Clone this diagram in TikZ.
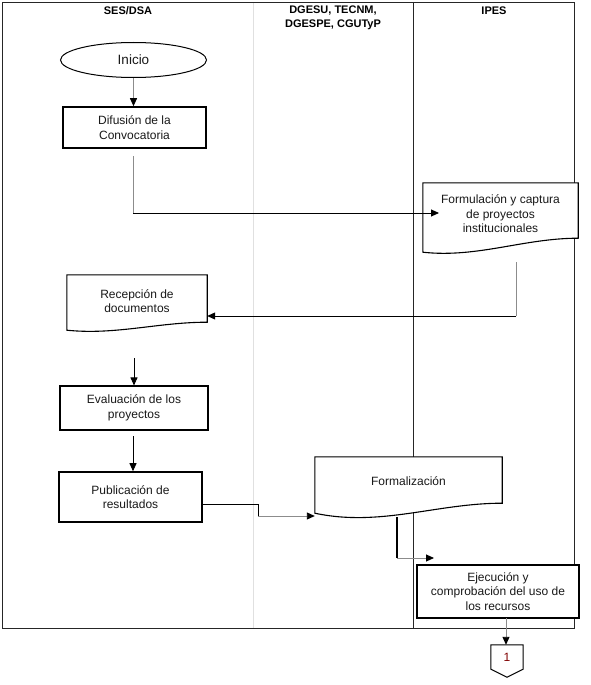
\documentclass[tikz,border=0pt]{standalone}
\usepackage{fontspec}
\setmainfont{Liberation Sans}
\usetikzlibrary{arrows.meta,calc,shapes.geometric}
\pgfdeclarelayer{lanes}
\pgfdeclarelayer{shapes}
\pgfsetlayers{lanes,shapes,main}
\newcommand{\docpath}[4]{%
  \draw[docline] ($(#1.south west)+(0,#2)$) -- (#1.north west) -- (#1.north east) -- ($(#1.south east)+(0,-#3)$)
    .. controls ($(#1.south west)!0.65!(#1.south east)+(0,-#3)$) and ($(#1.south west)!0.35!(#1.south east)+(0,#2+#4)$) .. ($(#1.south west)+(0,#2)$) -- cycle;}
\begin{document}
\begin{tikzpicture}[x=1pt,y=-1pt,
  every node/.style={font=\fontsize{12}{14.5}\selectfont, text=black!90},
  procbox/.style={rectangle, draw=black, line width=1.6pt, fill=white, align=center, inner sep=2pt},
  docnode/.style={rectangle, align=center, inner sep=2pt},
  docline/.style={draw=black, line width=1.1pt, fill=white},
  laneline/.style={draw=black!85, line width=0.8pt},
  lanelight/.style={draw=black!12, line width=0.8pt},
  flow/.style={draw=black!45, line width=0.9pt},
  flowdark/.style={draw=black, line width=0.9pt},
  tip/.style={-{Triangle[length=8pt,width=7pt,color=black]}},
  header/.style={font=\bfseries\fontsize{11}{14.5}\selectfont, align=center, text=black}
]
\useasboundingbox (0,0) rectangle (590,685);

% lanes
\begin{pgfonlayer}{lanes}
  \coordinate (fr1) at (2,2);
  \coordinate (fr2) at (574,628);
  \draw[lanelight] (253,2) -- (253,628);
  \draw[laneline] (413,2) -- (413,628);
  \draw[laneline] (fr1) rectangle (fr2);
\end{pgfonlayer}

\node[header] (h1) at (128,11) {SES/DSA};
\node[header] (h2) at (333,18) {DGESU, TECNM,\\DGESPE, CGUTyP};
\node[header] (h3) at (494,11) {IPES};

% nodes
\node[ellipse, draw=black, line width=1pt, fill=white, minimum width=146pt, minimum height=35pt, inner sep=0pt,
      font=\fontsize{13.5}{15}\selectfont] (inicio) at (133.5,60) {Inicio};
\node[procbox, minimum width=143pt, minimum height=41pt] (dif) at (134.5,127.5) {Difusión de la\\Convocatoria};
\node[docnode, minimum width=155pt, minimum height=62pt] (form) at (500.5,214) {Formulación y captura\\de proyectos\\institucionales};
\node[docnode, minimum width=140pt, minimum height=52pt] (rec) at (137,301) {Recepción de\\documentos};
\node[procbox, line width=1.1pt, minimum width=148pt, minimum height=44pt] (eval) at (134,408) {Evaluación de los\\proyectos};
\node[procbox, minimum width=143pt, minimum height=50pt] (pub) at (130.5,497) {Publicación de\\resultados};
\node[docnode, minimum width=187pt, minimum height=48pt] (formz) at (408.5,481) {Formalización};
\node[procbox, minimum width=162pt, minimum height=53pt] (ejec) at (498,591.5) {Ejecución y\\comprobación del uso de\\los recursos};
\node[rectangle, minimum width=32pt, minimum height=24pt, inner sep=0pt, text=red!50!black] (off) at (507,657) {1};

\begin{pgfonlayer}{shapes}
  \docpath{form}{7}{7}{6}
  \docpath{rec}{3}{5}{5}
  \docpath{formz}{8}{2}{14}
  \draw[draw=black, line width=1pt, fill=white] (off.north west) -- (off.north east) -- (off.south east)
     -- ($(off.south)+(0,8)$) -- (off.south west) -- cycle;
\end{pgfonlayer}

% connectors
\draw[flow, tip] (inicio.south) -- (inicio.south |- dif.north);

\coordinate (c1) at (133,156);
\coordinate (c1e) at (439,213);
\draw[flow] (c1) -- (c1 |- c1e);
\draw[flowdark, tip] (c1 |- c1e) -- (c1e);

\coordinate (c3) at (516,262);
\coordinate (c3e) at (rec.east |- 0,316);
\draw[flow] (c3) -- (c3 |- c3e);
\draw[flowdark, tip] (c3 |- c3e) -- (c3e);

\coordinate (c4) at (134,358);
\draw[flowdark, tip] (c4) -- (c4 |- eval.north);

\coordinate (c5) at (133,436);
\draw[flowdark, tip] (c5) -- (c5 |- pub.north);

\coordinate (c6) at (pub.east |- 0,504);
\coordinate (c6m) at (258,504);
\coordinate (c6e) at (formz.west |- 0,516);
\draw[flowdark] (c6) -- (c6m) -- (c6m |- c6e);
\draw[flow, tip] (c6m |- c6e) -- (c6e);

\coordinate (c7) at (397,517);
\coordinate (c7e) at (434,558);
\draw[draw=black, line width=1.8pt] (c7) -- (c7 |- c7e);
\draw[flow, tip] (c7 |- c7e) -- (c7e);

\coordinate (c8) at (506,618);
\draw[flow, tip] (c8) -- (c8 |- off.north);
\end{tikzpicture}
\end{document}
